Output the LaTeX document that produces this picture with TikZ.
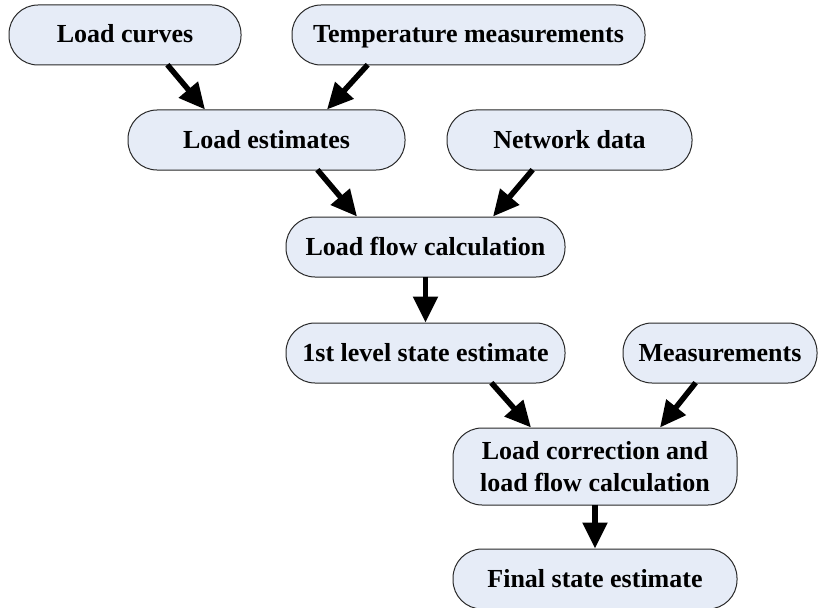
\documentclass[tikz,border=0pt]{standalone}
\usepackage{fontspec}
\setmainfont{Liberation Serif}
\usetikzlibrary{arrows.meta}
\definecolor{boxfill}{RGB}{230,236,247}
\definecolor{boxline}{RGB}{40,40,40}
\tikzset{
  stagebase/.style={draw=boxline, line width=1pt, fill=boxfill, rounded corners=29pt,
    inner sep=0pt, minimum height=60pt, align=center,
    font=\fontsize{26}{30}\selectfont\bfseries},
  stagebox/.style={stagebase, text height=22pt, text depth=6pt},
  flow/.style={line width=5.5pt, -{Triangle[length=26pt,width=24pt]}, shorten <=-1pt}
}
\begin{document}
\begin{tikzpicture}[x=1pt,y=-1pt]
\useasboundingbox (0,0) rectangle (818,607);
\node[stagebox, minimum width=232pt] (lc)  at (125,35)    {Load curves};
\node[stagebox, minimum width=353pt] (tm)  at (468.5,35)  {Temperature measurements};
\node[stagebox, minimum width=277pt] (le)  at (266.5,140) {Load estimates};
\node[stagebox, minimum width=245pt] (nd)  at (569.5,140) {Network data};
\node[stagebox, minimum width=279pt] (lf)  at (425.5,247) {Load flow calculation};
\node[stagebox, minimum width=279pt] (fl)  at (425.5,353) {1st level state estimate};
\node[stagebox, minimum width=194pt] (ms)  at (720,353)   {Measurements};
\node[stagebase, minimum width=284pt, minimum height=77pt] (lcr) at (595,466.5)
  {Load correction and\\[2pt]load flow calculation};
\node[stagebox, minimum width=284pt] (fs)  at (595,579)   {Final state estimate};

\draw[flow] ([xshift=43pt]lc.south)    -- ([xshift=-61.5pt]le.north);
\draw[flow] ([xshift=-101.5pt]tm.south) -- ([xshift=60.5pt]le.north);
\draw[flow] ([xshift=51.5pt]le.south)  -- ([xshift=-68.5pt]lf.north);
\draw[flow] ([xshift=-37.5pt]nd.south) -- ([xshift=67.5pt]lf.north);
\draw[flow] (lf.south) -- (fl.north);
\draw[flow] ([xshift=66.5pt]fl.south)  -- ([xshift=-64pt]lcr.north);
\draw[flow] ([xshift=-25pt]ms.south)   -- ([xshift=65pt]lcr.north);
\draw[flow] (lcr.south) -- (fs.north);
\end{tikzpicture}
\end{document}
